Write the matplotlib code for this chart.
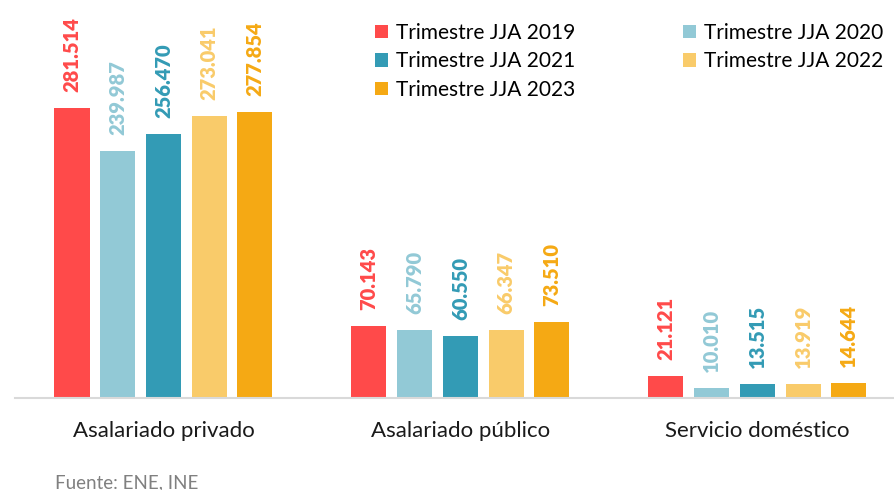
import numpy as np
import matplotlib.pyplot as plt

# Datos
categorias = ['Asalariado privado', 'Asalariado público', 'Servicio doméstico']
series = ['Trimestre JJA 2019', 'Trimestre JJA 2020', 'Trimestre JJA 2021',
          'Trimestre JJA 2022', 'Trimestre JJA 2023']
v2019 = [281514, 70143, 21121]
v2020 = [239987, 65790, 10010]
v2021 = [256470, 60550, 13515]
v2022 = [273041, 66347, 13919]
v2023 = [277854, 73510, 14644]
valores = [v2019, v2020, v2021, v2022, v2023]
colores = ['#FF4A4A', '#92C9D6', '#339BB5', '#F9CB6A', '#F5A914']

plt.rcParams['font.family'] = ['Lato', 'DejaVu Sans']

fig = plt.figure(figsize=(8.94, 4.90), dpi=100)
ax = fig.add_axes([15/894, 1 - 398/490, 1 - 15/894, 398/490])

x = np.arange(len(categorias))
ancho = 0.118
paso = 0.154
barras = []
for k, (vals, c) in enumerate(zip(valores, colores)):
    pos = x + (k - 2) * paso
    b = ax.bar(pos, vals, width=ancho, color=c, label=series[k])
    barras.append(b)
    for xi, v in zip(pos, vals):
        txt = f'{v:,}'.replace(',', '.')
        ax.text(xi, v + 15500, txt, rotation=90, ha='center', va='bottom',
                color=c, fontsize=14.5, fontweight='heavy')

ax.set_xlim(-0.5, 2.46)
ax.set_ylim(0, 386000)
ax.set_yticks([])
ax.set_xticks([])
for s in ['top', 'right', 'left']:
    ax.spines[s].set_visible(False)
ax.spines['bottom'].set_color('#D9D9D9')
ax.spines['bottom'].set_linewidth(1.5)

for xi, cat in zip(x, categorias):
    ax.text(xi, -32000, cat, ha='center', va='center', fontsize=16, color='#1a1a1a')

orden = [0, 2, 4, 1, 3]
fig.legend([barras[i] for i in orden], [series[i] for i in orden], ncol=2,
           loc='upper left', bbox_to_anchor=(375/894, 1 - 23/490), frameon=False,
           fontsize=15, handlelength=0.6, handleheight=0.6, handletextpad=0.4,
           columnspacing=5.2, labelspacing=0.4, borderaxespad=0, borderpad=0)

fig.text(55/894, 1 - 483/490, 'Fuente: ENE, INE', fontsize=13.5, color='#808080',
         ha='left', va='center')

fig.savefig('out.png', dpi=100)
